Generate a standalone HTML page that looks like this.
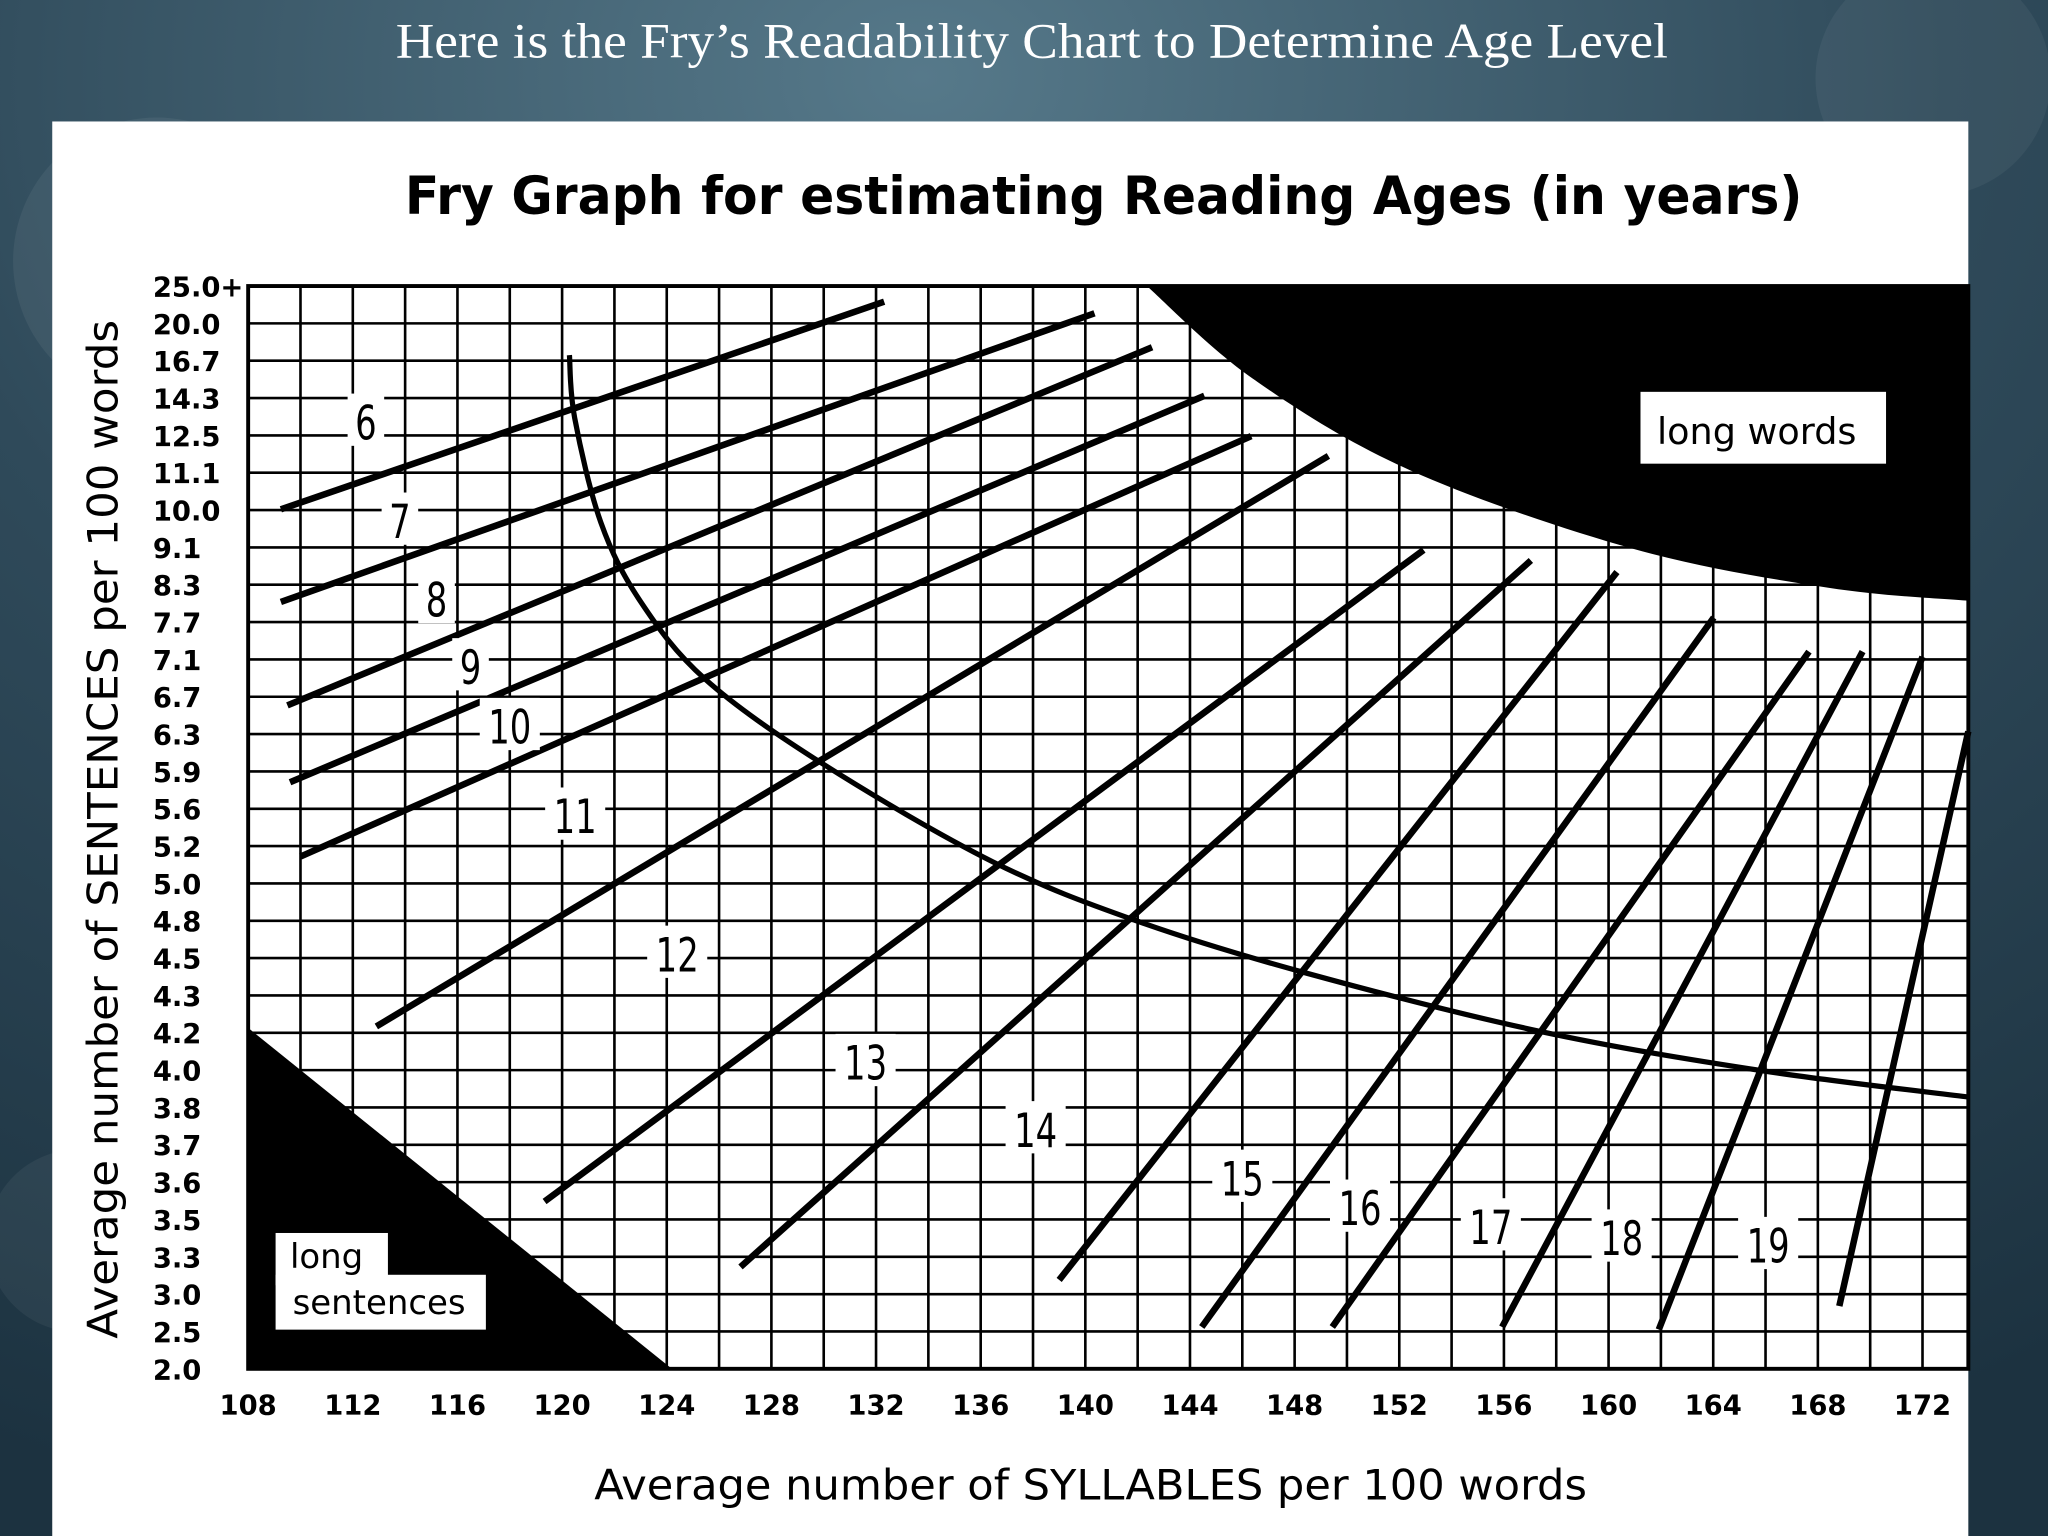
<!DOCTYPE html>
<html><head><meta charset="utf-8"><style>
html,body{margin:0;padding:0;background:#233a48;}
svg{display:block}
</style></head><body>
<svg id="chart" width="2048" height="1536" viewBox="0 0 1568 1176" xmlns="http://www.w3.org/2000/svg">
<defs>
<radialGradient id="bg" cx="0.45" cy="0.05" r="1">
<stop offset="0" stop-color="#56798a"/><stop offset="0.5" stop-color="#2f4a5a"/><stop offset="1" stop-color="#1c3240"/>
</radialGradient>
</defs>
<rect x="0" y="0" width="1568" height="1176" fill="url(#bg)"/>
<circle cx="120" cy="200" r="110" fill="#ffffff" opacity="0.06"/>
<circle cx="1480" cy="60" r="90" fill="#ffffff" opacity="0.05"/>
<circle cx="60" cy="950" r="70" fill="#ffffff" opacity="0.05"/>
<text x="790" y="44" text-anchor="middle" fill="#ffffff" font-family="Liberation Serif, serif" font-size="38" textLength="974" lengthAdjust="spacingAndGlyphs">Here is the Fry’s Readability Chart to Determine Age Level</text>
<rect x="40" y="93" width="1467" height="1083" fill="#ffffff"/>
<text x="845" y="164" text-anchor="middle" fill="#000" font-family="DejaVu Sans, sans-serif" font-weight="bold" font-size="40" textLength="1070" lengthAdjust="spacingAndGlyphs">Fry Graph for estimating Reading Ages (in years)</text>
<g id="plot"></g>
</svg>
<script>
const xTicks=[108,112,116,120,124,128,132,136,140,144,148,152,156,160,164,168,172];
const yTicks=["25.0+","20.0","16.7","14.3","12.5","11.1","10.0","9.1","8.3","7.7","7.1","6.7","6.3","5.9","5.6","5.2","5.0","4.8","4.5","4.3","4.2","4.0","3.8","3.7","3.6","3.5","3.3","3.0","2.5","2.0"];
const gradeNames=["6","7","8","9","10","11","12","13","14","15","16","17","18","19"];
const gradeStartX=[109.25,109.25,109.5,109.6,110.0,112.9,119.33,126.82,139.0,144.45,149.44,155.93,161.92,168.82];
const gradeStartY=[5.98,8.46,11.23,13.29,15.28,19.83,24.52,26.27,26.62,27.88,27.88,27.88,27.95,27.32];
const gradeEndX=[132.31,140.35,142.55,144.55,146.34,149.29,152.93,157.03,160.32,164.02,167.66,169.71,172.0,173.75];
const gradeEndY=[0.42,0.73,1.64,2.94,4.02,4.55,7.07,7.35,7.66,8.88,9.79,9.79,9.93,11.93];
const labelX=[112.5,113.8,115.2,116.5,118.0,120.5,124.4,131.6,138.1,146.0,150.5,155.5,160.5,166.1];
const labelY=[3.65,6.3,8.4,10.2,11.8,14.2,17.9,20.8,22.6,23.9,24.7,25.2,25.5,25.7];
const curveX=[120.28,120.48,121.48,122.98,125.47,129.97,136.46,141.95,148.44,157.43,165.91,173.75];
const curveY=[1.85,3.53,6.33,8.43,10.53,12.8,15.42,17.0,18.4,19.97,21.02,21.72];
const wordsRegionX=[142.35,146.4,152.4,160.9,168.4,173.75];
const wordsRegionY=[0,2.48,4.93,7.03,8.08,8.43];
const sentRegionX=[108,124.2,108];
const sentRegionY=[19.87,29,29];

const X0=190,XR=1507,Y0=219,Y1=1048;
const xs=v=>X0+(v-108)*20.03;
const ys=i=>Y0+i*(Y1-Y0)/29;
const NS="http://www.w3.org/2000/svg";
const plot=document.getElementById('plot');
function mk(tag,attrs,parent){const e=document.createElementNS(NS,tag);for(const k in attrs)e.setAttribute(k,attrs[k]);(parent||plot).appendChild(e);return e;}
function smooth(xa,ya){
 const P=xa.map((v,i)=>[xs(v),ys(ya[i])]);
 let d='M'+P[0][0]+','+P[0][1];
 for(let i=0;i<P.length-1;i++){
  const p0=P[Math.max(0,i-1)],p1=P[i],p2=P[i+1],p3=P[Math.min(P.length-1,i+2)];
  const c1=[p1[0]+(p2[0]-p0[0])/6,p1[1]+(p2[1]-p0[1])/6];
  const c2=[p2[0]-(p3[0]-p1[0])/6,p2[1]-(p3[1]-p1[1])/6];
  d+=` C${c1[0]},${c1[1]} ${c2[0]},${c2[1]} ${p2[0]},${p2[1]}`;
 }
 return d;
}

for(let v=110;v<=172;v+=2){
 const l=mk('line',{x1:xs(v),x2:xs(v),y1:Y0,y2:Y1,stroke:'#000','stroke-width':2});
 
 
}
for(let i=1;i<29;i++){
 const l=mk('line',{x1:X0,x2:XR,y1:ys(i),y2:ys(i),stroke:'#000','stroke-width':2});
 
 
}
const frame=mk('rect',{x:X0,y:Y0,width:XR-X0,height:Y1-Y0,fill:'none',stroke:'#000','stroke-width':3});



(function(){
 const d=smooth(wordsRegionX,wordsRegionY)+` L${xs(173.75)},${ys(0)} Z`;
 const p=mk('path',{d:d,fill:'#000'});
 
 
 const pts=sentRegionX.map((v,i)=>xs(v)+','+ys(sentRegionY[i])).join(' ');
 const q=mk('polygon',{points:pts,fill:'#000'});
 
 
})();

(function(){
 const p=mk('path',{d:smooth(curveX,curveY),fill:'none',stroke:'#000','stroke-width':4});
 
 
})();

gradeNames.forEach((g,i)=>{
 const l=mk('line',{x1:xs(gradeStartX[i]),y1:ys(gradeStartY[i]),x2:xs(gradeEndX[i]),y2:ys(gradeEndY[i]),stroke:'#000','stroke-width':5});
 
 
});
gradeNames.forEach((g,i)=>{
 const cx=xs(labelX[i]),cy=ys(labelY[i]);
 const w=g.length*18+10;
 const r=mk('rect',{x:cx-w/2,y:cy-22,width:w,height:40,fill:'#fff'});
 
 
 const t=mk('text',{x:cx,y:cy+13,'text-anchor':'middle','font-family':'DejaVu Sans Condensed, DejaVu Sans, sans-serif','font-size':36,fill:'#000',transform:`translate(${cx},0) scale(0.8,1) translate(${-cx},0)`});
 t.textContent=g;
 
 
});

xTicks.forEach(v=>{
 const t=mk('text',{x:xs(v),y:1083,'text-anchor':'middle','font-family':'DejaVu Sans, sans-serif','font-weight':'bold','font-size':21,fill:'#000'});
 t.textContent=v;
 
 
});
yTicks.forEach((s,i)=>{
 const t=mk('text',{x:117,y:ys(i)+8,'font-family':'DejaVu Sans, sans-serif','font-weight':'bold','font-size':21,fill:'#000'});
 t.textContent=s;
 
 
});

(function(){
 const r=mk('rect',{x:1256,y:300,width:188,height:55,fill:'#fff'});
 
 
 const t=mk('text',{x:1345,y:340,'text-anchor':'middle','font-family':'DejaVu Sans, sans-serif','font-size':28,fill:'#000'});
 t.textContent='long words';
 
 
 const r2=mk('rect',{x:211,y:944,width:86,height:40,fill:'#fff'});
 
 
 const r3=mk('rect',{x:211,y:976,width:161,height:42,fill:'#fff'});
 
 
 const t2=mk('text',{x:222,y:971,'font-family':'DejaVu Sans, sans-serif','font-size':26,fill:'#000'});
 t2.textContent='long';
 
 
 const t3=mk('text',{x:224,y:1006,'font-family':'DejaVu Sans, sans-serif','font-size':26,fill:'#000'});
 t3.textContent='sentences';
 
 
 const xt=mk('text',{x:835,y:1148,'text-anchor':'middle','font-family':'DejaVu Sans, sans-serif','font-size':32,fill:'#000',textLength:760,lengthAdjust:'spacingAndGlyphs'});
 xt.textContent='Average number of SYLLABLES per 100 words';
 
 
 const yt=mk('text',{x:0,y:0,'text-anchor':'middle','font-family':'DejaVu Sans, sans-serif','font-size':32,fill:'#000',textLength:780,lengthAdjust:'spacingAndGlyphs',transform:'translate(90,635) rotate(-90)'});
 yt.textContent='Average number of SENTENCES per 100 words';
 
 
})();
</script>
</body></html>
